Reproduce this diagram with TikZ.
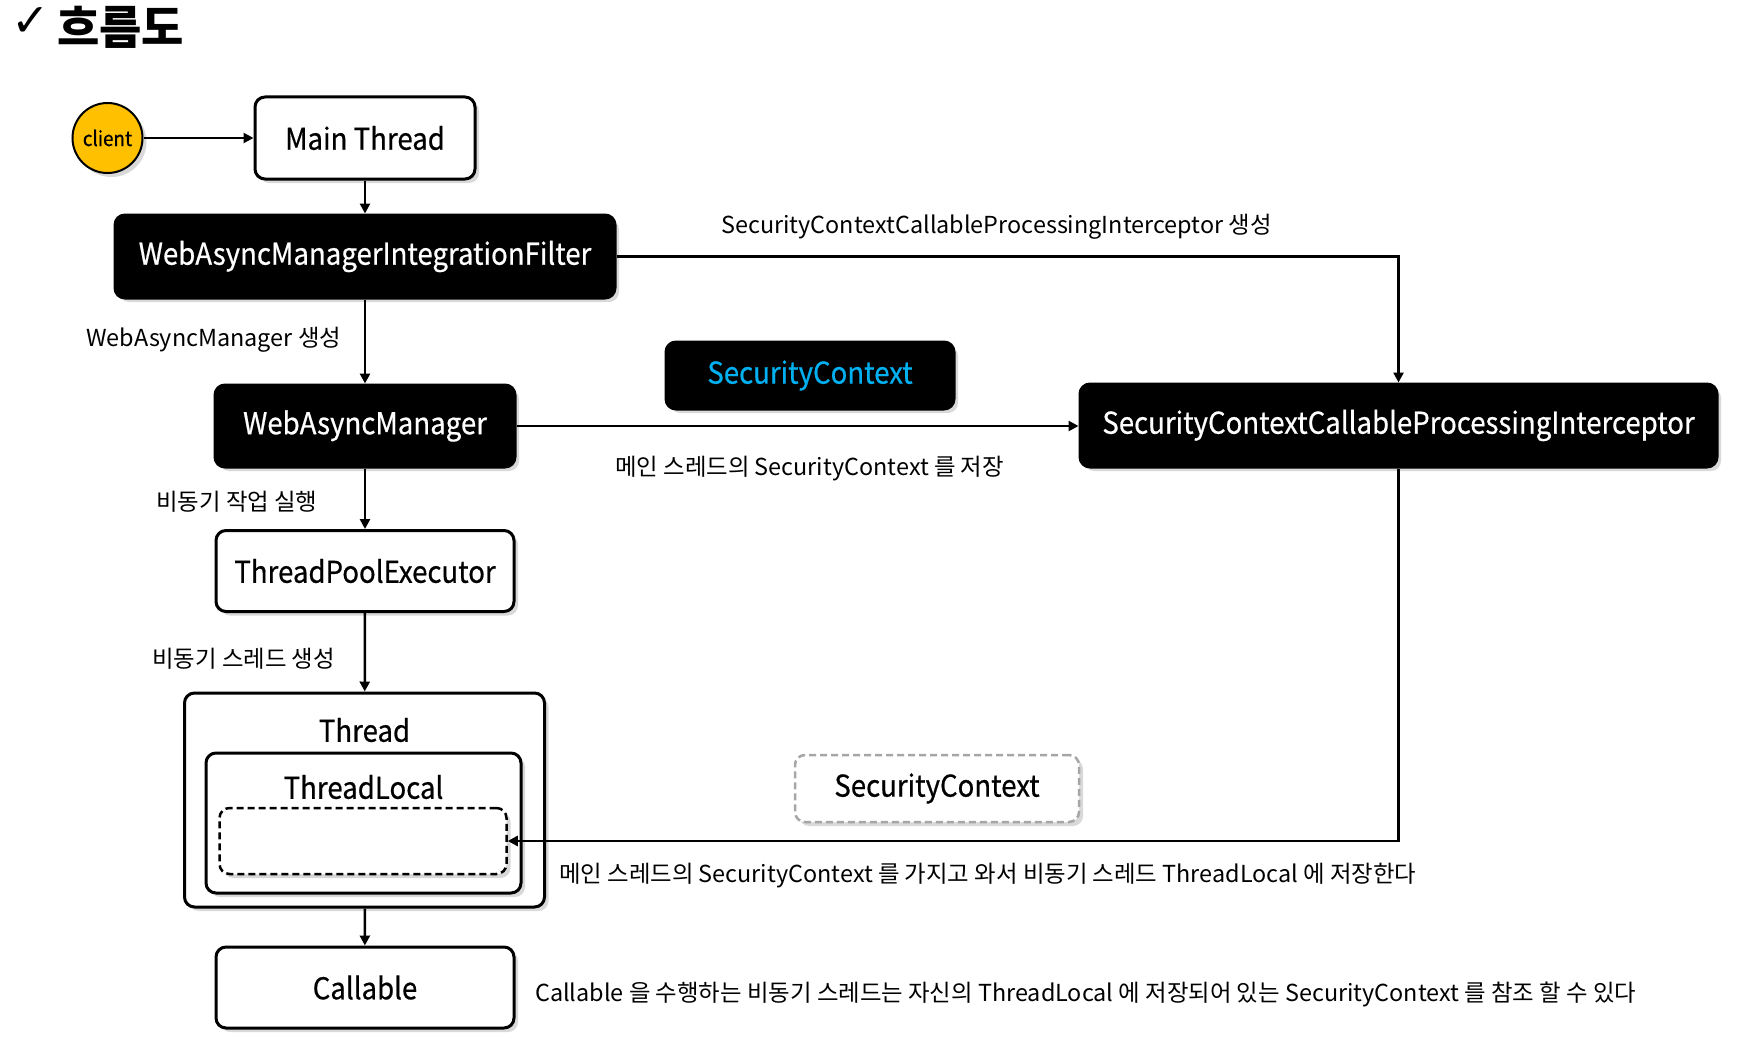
\documentclass[tikz,border=0pt]{standalone}
\usepackage{fontspec}
\setmainfont{Noto Sans CJK KR}
\newfontfamily\boxfont[FakeStretch=0.92,FakeBold=0.6]{Noto Sans CJK KR}
\newfontfamily\symfont{DejaVu Sans}
\usetikzlibrary{arrows.meta,shadows}
\definecolor{gold}{HTML}{FFC000}
\definecolor{scblue}{HTML}{00B0F0}
\definecolor{dgray}{HTML}{A6A6A6}
\tikzset{
  conn/.style={line width=2.5pt, -{Triangle[length=10pt,width=10pt]}},
  shd/.style={drop shadow={shadow xshift=4pt,shadow yshift=-4pt,opacity=0.3}},
  wbox/.style={draw=black, line width=3pt, fill=white, rounded corners=10pt, inner sep=0pt,
    font=\boxfont\fontsize{30}{36}\selectfont, shd},
  bbox/.style={wbox, fill=black, text=white},
  boxtext/.style={inner sep=0pt, font=\boxfont\fontsize{30}{36}\selectfont},
  lbl/.style={font=\fontsize{23.4}{28}\selectfont, anchor=west, inner sep=0pt},
}
\begin{document}
\begin{tikzpicture}[x=1pt,y=-1pt]
\useasboundingbox (0,0) rectangle (1752,1038);
% title
\node[anchor=west, inner sep=0pt, font=\symfont\fontsize{46}{50}\selectfont\bfseries] (chk) at (11,22) {✓};
\node[anchor=west, inner sep=0pt, font=\fontsize{46}{52}\selectfont\bfseries] (title) at (57,27) {흐름도};
% nodes
\node[circle, draw=black, line width=2pt, fill=gold, minimum size=70pt, inner sep=0pt,
  font=\boxfont\fontsize{20.5}{24}\selectfont, shd] (client) at (107.5,138) {client};
\node[wbox, minimum width=220pt, minimum height=82pt] (main) at (365,138) {Main Thread};
\node[bbox, minimum width=500pt, minimum height=83pt] (filter) at (365,256.5) {WebAsyncManagerIntegrationFilter};
\node[bbox, minimum width=300pt, minimum height=82pt] (wam) at (365,426) {WebAsyncManager};
\node[wbox, minimum width=298pt, minimum height=81pt] (tpe) at (365,571) {ThreadPoolExecutor};
\node[wbox, minimum width=360pt, minimum height=214pt] (thread) at (364.5,800) {};
\node[boxtext] (threadt) at (364.5,730) {Thread};
\node[wbox, minimum width=315pt, minimum height=140pt] (tl) at (363.5,823) {};
\node[boxtext] (tlt) at (363.5,787) {ThreadLocal};
\node[draw=black, dashed, dash pattern=on 7pt off 4pt, line width=2.5pt, rounded corners=10pt,
  minimum width=287pt, minimum height=66pt, inner sep=0pt, fill=white, shd] (slot) at (363,841) {};
\node[wbox, minimum width=298pt, minimum height=81pt] (callable) at (365,987.5) {Callable};
\node[bbox, minimum width=288pt, minimum height=67pt, text=scblue] (sc1) at (810,375.5) {SecurityContext};
\node[bbox, minimum width=637pt, minimum height=83pt] (icpt) at (1398.5,425.5) {SecurityContextCallableProcessingInterceptor};
\node[wbox, draw=dgray, dash pattern=on 7pt off 4pt, line width=2.5pt, minimum width=284pt, minimum height=67pt] (sc2) at (937,788.5) {SecurityContext};
% connectors
\draw[conn] (client) -- (main);
\draw[conn] (main) -- (filter);
\draw[conn] (filter) -- (wam);
\draw[conn] (filter.east) -| (icpt.north);
\draw[conn] (wam.east) -- (wam.east -| icpt.west);
\draw[conn] (wam) -- (tpe);
\draw[conn] (tpe) -- (thread);
\draw[conn] (icpt.south) |- (slot.east);
\draw[conn] (thread) -- (callable);
% labels
\node[lbl] (l1) at (86,339.5) {WebAsyncManager 생성};
\node[lbl] (l2) at (721,226.5) {SecurityContextCallableProcessingInterceptor 생성};
\node[lbl] (l3) at (615,469) {메인 스레드의 SecurityContext 를 저장};
\node[lbl] (l4) at (156,502) {비동기 작업 실행};
\node[lbl] (l5) at (152,658.5) {비동기 스레드 생성};
\node[lbl] (l6) at (559,876) {메인 스레드의 SecurityContext 를 가지고 와서 비동기 스레드 ThreadLocal 에 저장한다};
\node[lbl] (l7) at (535,994.5) {Callable 을 수행하는 비동기 스레드는 자신의 ThreadLocal 에 저장되어 있는 SecurityContext 를 참조 할 수 있다};
\end{tikzpicture}
\end{document}
